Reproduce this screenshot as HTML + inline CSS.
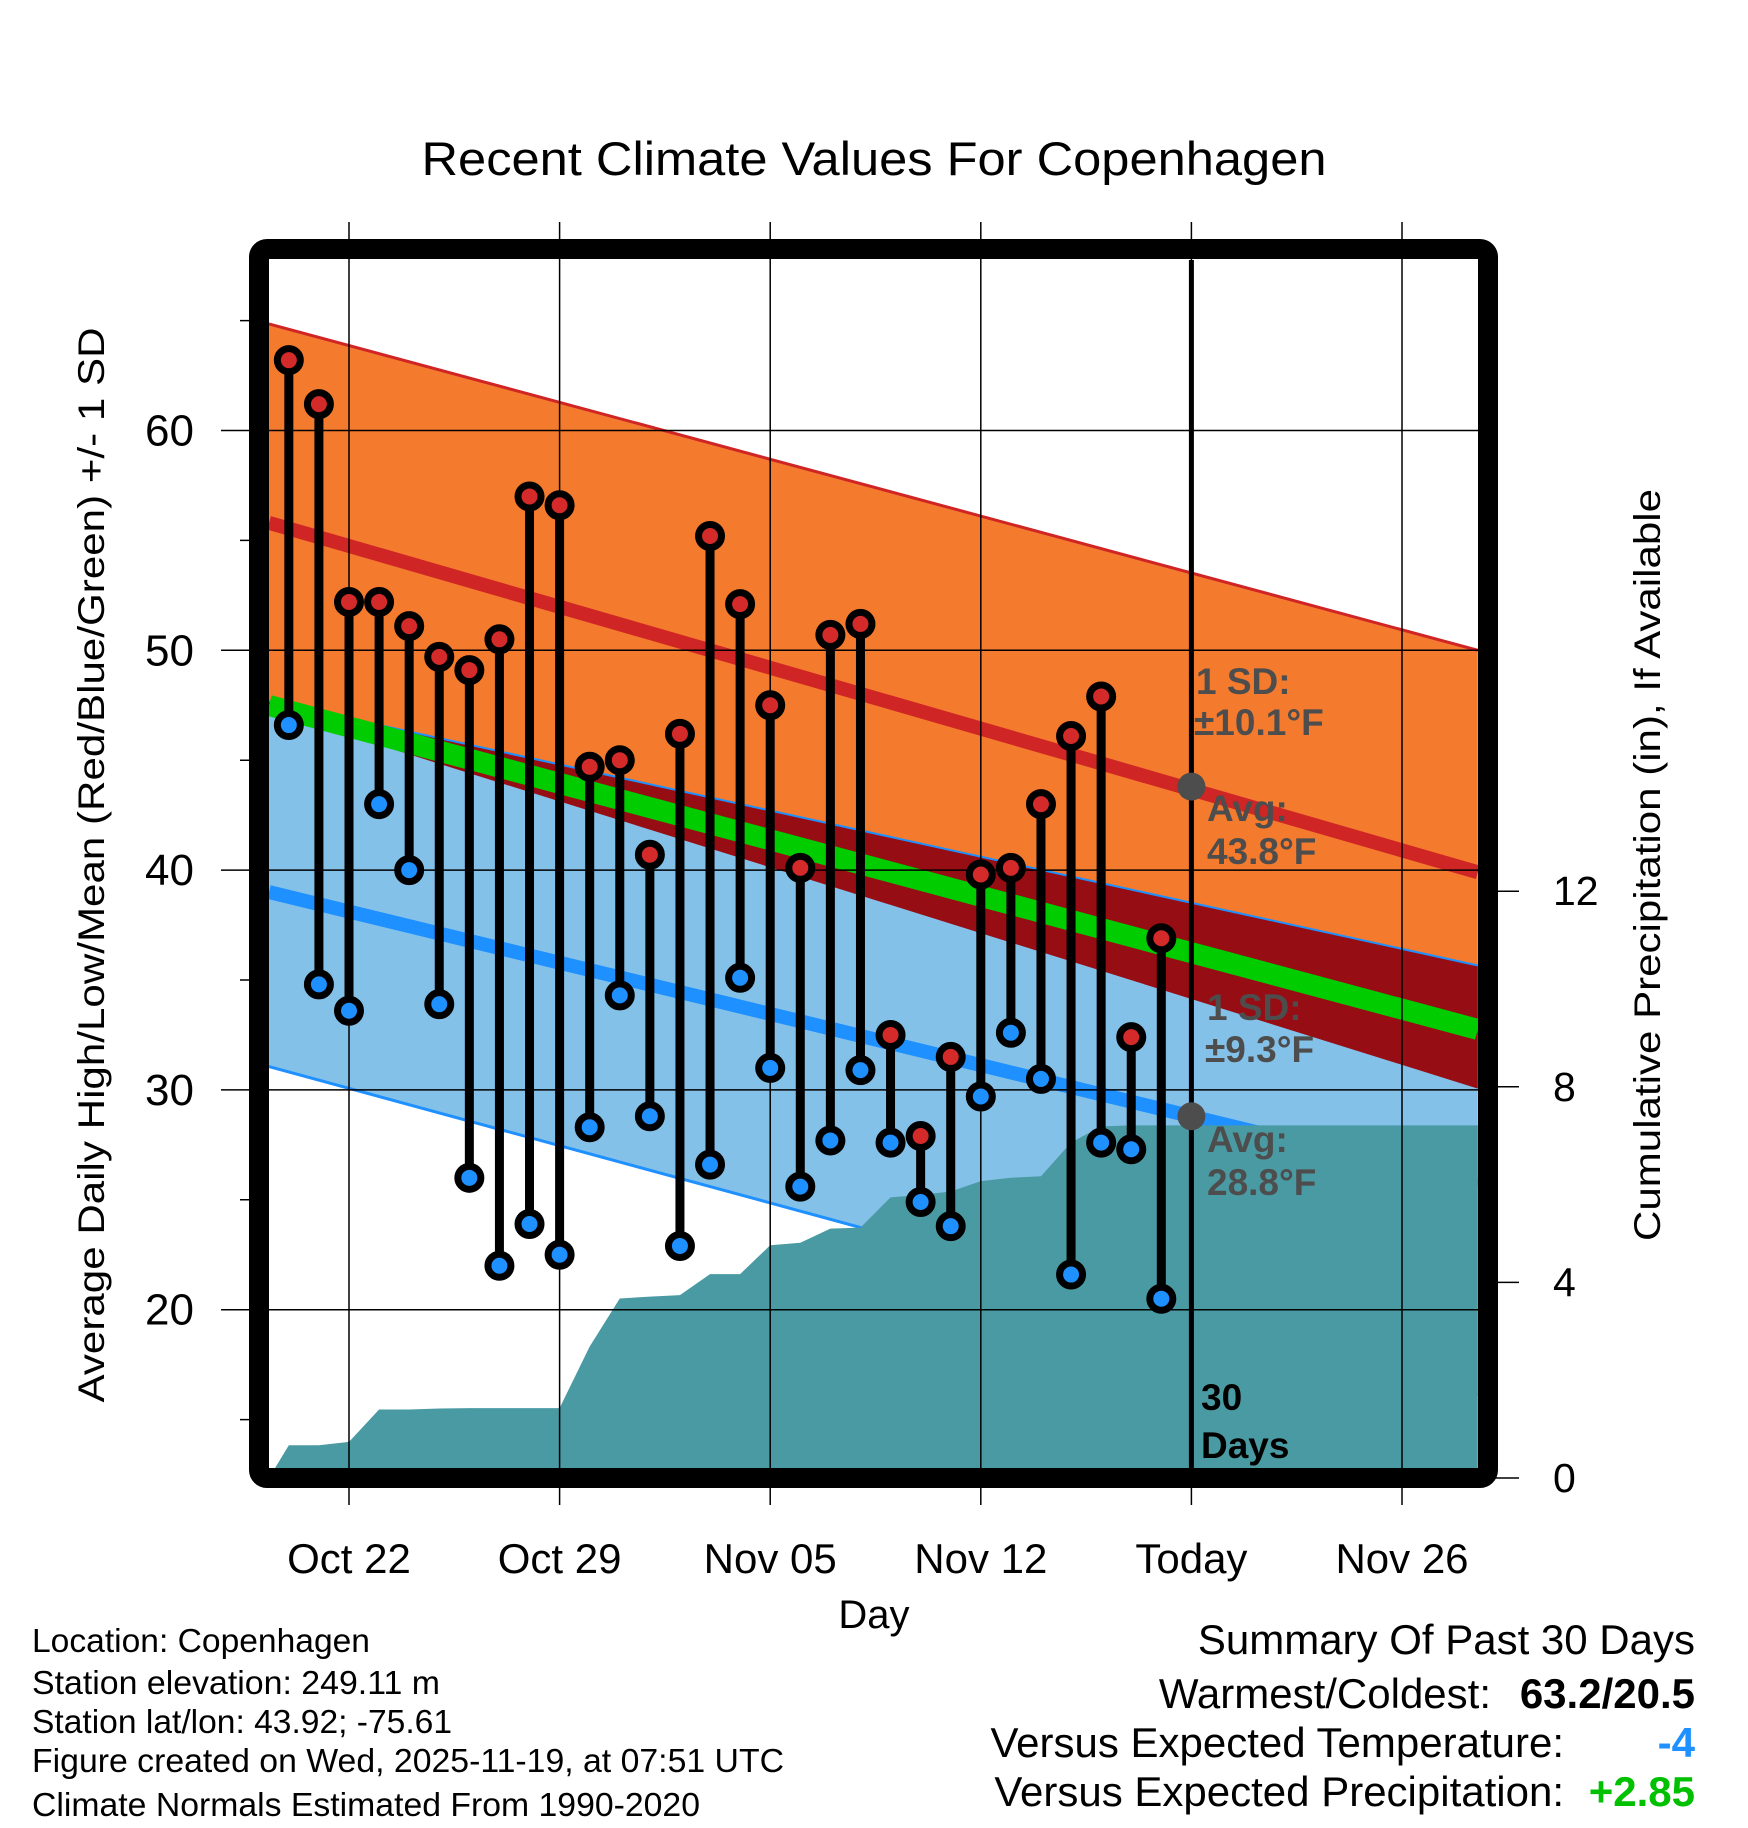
<!DOCTYPE html>
<html><head><meta charset="utf-8"><title>Recent Climate Values For Copenhagen</title>
<style>
html,body{margin:0;padding:0;background:#fff;}
svg{display:block;font-family:"Liberation Sans",Arial,sans-serif;}
</style></head>
<body>
<svg id="chart" width="1748" height="1828" viewBox="0 0 1748 1828" xmlns="http://www.w3.org/2000/svg">
<text x="874" y="175" font-size="47" text-anchor="middle" textLength="905" lengthAdjust="spacingAndGlyphs">Recent Climate Values For Copenhagen</text>
<g id="plot"></g>
<text x="874" y="1628" font-size="40" text-anchor="middle">Day</text>
<text transform="translate(104,865) rotate(-90)" font-size="37" text-anchor="middle" textLength="1075" lengthAdjust="spacingAndGlyphs">Average Daily High/Low/Mean (Red/Blue/Green) +/- 1 SD</text>
<text transform="translate(1660,865) rotate(-90)" font-size="37" text-anchor="middle" textLength="752" lengthAdjust="spacingAndGlyphs">Cumulative Precipitation (in), If Available</text>
<g font-size="33">
<text x="32" y="1652" textLength="338" lengthAdjust="spacingAndGlyphs">Location: Copenhagen</text>
<text x="32" y="1694" textLength="408" lengthAdjust="spacingAndGlyphs">Station elevation: 249.11 m</text>
<text x="32" y="1733" textLength="420" lengthAdjust="spacingAndGlyphs">Station lat/lon: 43.92; -75.61</text>
<text x="32" y="1772" textLength="752" lengthAdjust="spacingAndGlyphs">Figure created on Wed, 2025-11-19, at 07:51 UTC</text>
<text x="32" y="1816" textLength="668" lengthAdjust="spacingAndGlyphs">Climate Normals Estimated From 1990-2020</text>
</g>
<g font-size="42">
<text x="1695" y="1654" text-anchor="end">Summary Of Past 30 Days</text>
<text x="1491" y="1708" text-anchor="end">Warmest/Coldest:</text>
<text x="1695" y="1708" text-anchor="end" font-weight="bold">63.2/20.5</text>
<text x="1564" y="1757" text-anchor="end">Versus Expected Temperature:</text>
<text x="1695" y="1757" text-anchor="end" font-weight="bold" fill="#1e90ff">-4</text>
<text x="1564" y="1806" text-anchor="end">Versus Expected Precipitation:</text>
<text x="1695" y="1806" text-anchor="end" font-weight="bold" fill="#00c000">+2.85</text>
</g>
</svg>
<script>
const highs=[63.2,61.2,52.2,52.2,51.1,49.7,49.1,50.5,57.0,56.6,44.7,45.0,40.7,46.2,55.2,52.1,47.5,40.1,50.7,51.2,32.5,27.9,31.5,39.8,40.1,43.0,46.1,47.9,32.4,36.9];
const lows=[46.6,34.8,33.6,43.0,40.0,33.9,26.0,22.0,23.9,22.5,28.3,34.3,28.8,22.9,26.6,35.1,31.0,25.6,27.7,30.9,27.6,24.9,23.8,29.7,32.6,30.5,21.6,27.6,27.3,20.5];
const precip=[0.67,0.67,0.74,1.40,1.40,1.42,1.43,1.43,1.43,1.43,2.69,3.67,3.71,3.74,4.17,4.17,4.76,4.81,5.10,5.12,5.74,5.79,5.86,6.07,6.14,6.17,6.86,7.19,7.21,7.21];
const xTickLabels=["Oct 22","Oct 29","Nov 05","Nov 12","Today","Nov 26"];
const xTickDays=[2,9,16,23,30,37];
const yTicks=[20,30,40,50,60];
const yMinor=[15,25,35,45,55,65];
const y2Ticks=[0,4,8,12];
const highTopEnds=[64.85,50.0];
const highAvgEnds=[55.8,39.9];
const highBotEnds=[47.26,30.06];
const lowTopEnds=[47.7,35.66];
const meanEnds=[47.49,32.75];
const lowAvgEnds=[39.0,25.63];
const lowBotEnds=[31.06,16.1];
const todayHigh=43.8, todayLow=28.8;

const NS="http://www.w3.org/2000/svg";
const L=269,R=1478,T=260,B=1468;
const dayMin=-0.66, dayMax=39.52;
function xs(d){return 349+(d-2)*30.086;}
function ys(v){return 430.5+(60-v)*21.98;}
function ps(v){return 1478-v*48.9;}
const plot=document.getElementById('plot');
function mk(tag,attrs,parent){const e=document.createElementNS(NS,tag);for(const k in attrs)e.setAttribute(k,attrs[k]);(parent||plot).appendChild(e);return e;}
const xL=xs(dayMin), xR=xs(dayMax);
const clip=mk('clipPath',{id:'pc'});mk('rect',{x:L,y:T,width:R-L,height:B-T},clip);
const g=mk('g',{'clip-path':'url(#pc)'});
function mkG(tag,attrs){return mk(tag,attrs,g);}
{
 let e;
 e=mkG('polygon',{points:`${xL},${ys(highTopEnds[0])} ${xR},${ys(highTopEnds[1])} ${xR},${ys(highBotEnds[1])} ${xL},${ys(highBotEnds[0])}`,fill:'#f47a2e'});
 
 
 e=mkG('polygon',{points:`${xL},${ys(lowTopEnds[0])} ${xR},${ys(lowTopEnds[1])} ${xR},${ys(lowBotEnds[1])} ${xL},${ys(lowBotEnds[0])}`,fill:'#84c1e8'});
 
 
 e=mkG('polygon',{points:`${xL},${ys(lowTopEnds[0])} ${xR},${ys(lowTopEnds[1])} ${xR},${ys(highBotEnds[1])} ${xL},${ys(highBotEnds[0])}`,fill:'#960d14'});
 
 
 const lines=[[highTopEnds,'#d02525',3,'high-sd-top-line'],[lowTopEnds,'#1e90ff',2,'low-sd-top-line'],[lowBotEnds,'#1e90ff',3,'low-sd-bottom-line'],[meanEnds,'#00cc00',21,'mean-line'],[highAvgEnds,'#d02525',14,'avg-high-line'],[lowAvgEnds,'#1e90ff',14,'avg-low-line']];
 for(const [en,c,w,n] of lines){
  e=mkG('line',{x1:xL,y1:ys(en[0]),x2:xR,y2:ys(en[1]),stroke:c,'stroke-width':w});
  
  
 }
 let pts=`${xL},${ps(0)} `;
 precip.forEach((p,i)=>{pts+=`${xs(i)},${ps(p)} `;});
 pts+=`${xR},${ps(precip[precip.length-1])} ${xR},${ps(0)}`;
 e=mkG('polygon',{points:pts,fill:'#4a9aa3'});
 
 
 yTicks.forEach(v=>{
  e=mkG('line',{x1:L,x2:R,y1:ys(v),y2:ys(v),stroke:'#000','stroke-width':1.5});
  
  
 });
}
xTickDays.forEach((d,i)=>{
 const x=xs(d);
 let e=mk('line',{x1:x,x2:x,y1:222,y2:1505,stroke:'#000','stroke-width':1.5});
 
 
 e=mk('text',{x:x,y:1573,'font-size':42,'text-anchor':'middle'});
 e.textContent=xTickLabels[i];
 
 
});
{
 const x=xs(30);
 const e=mk('line',{x1:x,x2:x,y1:T,y2:B,stroke:'#000','stroke-width':5});
 
 
}
yTicks.forEach(v=>{
 let e=mk('line',{x1:221,x2:L,y1:ys(v),y2:ys(v),stroke:'#000','stroke-width':1.5});
 
 
 e=mk('text',{x:194,y:ys(v)+15,'font-size':44,'text-anchor':'end'});
 e.textContent=v;
 
 
});
yMinor.forEach(v=>{
 const e=mk('line',{x1:240,x2:L,y1:ys(v),y2:ys(v),stroke:'#000','stroke-width':1.5});
 
 
});
y2Ticks.forEach(v=>{
 let e=mk('line',{x1:R,x2:1519,y1:ps(v),y2:ps(v),stroke:'#000','stroke-width':1.5});
 
 
 e=mk('text',{x:1553,y:ps(v)+14,'font-size':41});
 e.textContent=v;
 
 
});
highs.forEach((h,i)=>{
 const x=xs(i);
 let e=mk('line',{x1:x,x2:x,y1:ys(h),y2:ys(lows[i]),stroke:'#000','stroke-width':9});
 
 
});
highs.forEach((h,i)=>{
 const x=xs(i);
 let e=mk('circle',{cx:x,cy:ys(h),r:11.5,fill:'#d42a2a',stroke:'#000','stroke-width':7});
 
 
 e=mk('circle',{cx:x,cy:ys(lows[i]),r:11.5,fill:'#1e90ff',stroke:'#000','stroke-width':7});
 
 
});
[todayHigh,todayLow].forEach((v,i)=>{
 const e=mk('circle',{cx:xs(30),cy:ys(v),r:14,fill:'#4d4d4d'});
 
 
});
const ann=[["1 SD:",1196,694],["\u00b110.1\u00b0F",1194,735],["Avg:",1207,821],["43.8\u00b0F",1207,864],["1 SD:",1207,1020],["\u00b19.3\u00b0F",1205,1062],["Avg:",1207,1152],["28.8\u00b0F",1207,1195]];
ann.forEach(a=>{
 const e=mk('text',{x:a[1],y:a[2],'font-size':37,'font-weight':'bold',fill:'#4d4d4d'});
 e.textContent=a[0];
 
 
});
[["30",1410],["Days",1458]].forEach(a=>{
 const e=mk('text',{x:1201,y:a[1],'font-size':37,'font-weight':'bold',fill:'#000'});
 e.textContent=a[0];
 
 
});
{
 const e=mk('rect',{x:259,y:249,width:1229,height:1229,rx:8,fill:'none',stroke:'#000','stroke-width':20});
 
 
}
</script>
</body></html>
